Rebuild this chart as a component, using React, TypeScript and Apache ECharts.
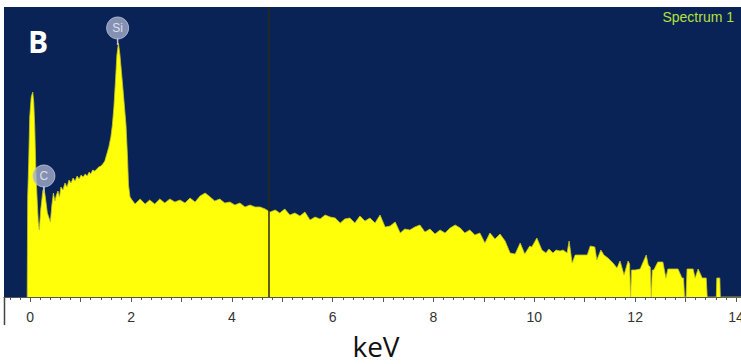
import React, { useEffect, useRef } from "react";
import * as echarts from "echarts";

// Energy (keV) and counts (arbitrary units, 0..290)
const energies = [
  -0.06, -0.05, -0.03, -0.01, 0.02, 0.05, 0.07, 0.09, 0.11, 0.13, 0.16, 0.18,
  0.21, 0.25, 0.27, 0.3, 0.34, 0.4, 0.43, 0.46, 0.49, 0.52, 0.55, 0.58, 0.61,
  0.65, 0.69, 0.73, 0.77, 0.81, 0.85, 0.89, 0.93, 0.97, 1.01, 1.05, 1.09, 1.13,
  1.17, 1.2, 1.24, 1.28, 1.32, 1.36, 1.4, 1.44, 1.48, 1.52, 1.56, 1.6, 1.63,
  1.66, 1.69, 1.72, 1.75, 1.78, 1.81, 1.84, 1.87, 1.9, 1.93, 1.95, 1.98, 2.02,
  2.08, 2.18, 2.28, 2.37, 2.47, 2.57, 2.67, 2.77, 2.87, 2.97,
  3.07, 3.17, 3.27, 3.37, 3.47, 3.57, 3.66, 3.76, 3.86, 3.96,
  4.06, 4.16, 4.26, 4.36, 4.46, 4.56, 4.66, 4.76, 4.86, 4.95,
  5.05, 5.15, 5.25, 5.35, 5.45, 5.55, 5.65, 5.75, 5.85, 5.95,
  6.05, 6.15, 6.24, 6.34, 6.44, 6.54, 6.64, 6.74, 6.84, 6.94,
  7.04, 7.14, 7.24, 7.34, 7.43, 7.53, 7.63, 7.73, 7.83, 7.93,
  8.03, 8.13, 8.23, 8.33, 8.43, 8.53, 8.62, 8.72, 8.82, 8.92,
  9.02, 9.12, 9.22, 9.32, 9.42, 9.52, 9.62, 9.72, 9.81, 9.91,
  9.95, 10.05, 10.15, 10.23, 10.29, 10.37, 10.43, 10.51, 10.57, 10.65, 10.69,
  10.75, 10.81, 10.91, 11.05, 11.11, 11.2, 11.24, 11.32, 11.38, 11.46, 11.56,
  11.64, 11.7, 11.78, 11.86, 11.89, 11.91, 11.93, 12.0, 12.1, 12.16, 12.22,
  12.26, 12.3, 12.32, 12.34, 12.37, 12.45, 12.55, 12.61, 12.65, 12.85, 12.93,
  12.96, 12.98, 13.01, 13.03, 13.05, 13.15, 13.19, 13.25, 13.33, 13.41, 13.43,
  13.61, 13.62, 13.68, 13.69, 14.1,
];
const counts = [
  0, 100, 135, 180, 200, 205, 195, 170, 130, 105, 75, 67,
  88, 106, 110, 100, 84, 75, 92, 104, 96, 102, 106, 100, 110,
  107, 114, 110, 117, 114, 119, 116, 121, 118, 122, 120, 123, 121,
  125, 123, 127, 126, 128, 130, 131, 133, 136, 143, 150, 160, 172,
  190, 215, 242, 254, 242, 225, 208, 190, 172, 140, 112, 100, 97,
  93, 98, 93, 97, 93, 98, 94, 98, 95, 97,
  94, 99, 95, 101, 104, 100, 96, 98, 94, 95,
  92, 94, 90, 92, 90, 90, 88, 85, 87, 84,
  88, 82, 84, 81, 85, 77, 80, 78, 82, 80,
  79, 74, 78, 79, 74, 81, 76, 79, 74, 82,
  70, 71, 75, 64, 68, 67, 70, 72, 65, 68,
  63, 67, 64, 69, 72, 69, 64, 67, 62, 64,
  54, 64, 58, 63, 56, 44, 43, 54, 43, 51,
  50, 59, 47, 44, 48, 44, 47, 46, 47, 44, 56,
  34, 42, 42, 42, 51, 50, 37, 47, 42, 39, 34,
  29, 36, 22, 36, 33, 0, 27, 27, 28, 35, 42,
  32, 30, 0, 27, 27, 35, 35, 19, 28, 28, 19,
  19, 0, 0, 28, 28, 28, 19, 28, 19, 19, 0,
  0, 19, 19, 0, 0,
];

const xLabelValues = [0, 2, 4, 6, 8, 10, 12, 14];
const majorTickValues = [0, 1, 2, 3, 4, 5, 6, 7, 8, 9, 10, 11, 12, 13, 14];
const elementNames = ["Si", "C"];
const elementEnergy = [1.734, 0.272];
const elementMarkerY = [269, 121];
const elementStemTop = [259, 111];
const elementStemBottom = [252, 104];
const cursorEnergy = 4.74;

export default function App() {
  const ref = useRef<HTMLDivElement>(null);
  useEffect(() => {
    document.body.style.margin = "0";
    const chart = echarts.init(ref.current!, null, { renderer: "svg" });
    const spectrum = energies.map((e, i) => [e, counts[i]]);
    const minorTicks = Array.from({ length: 73 }, (_, i) => Math.round((-0.4 + i * 0.2) * 10) / 10);
    const stemSeries = elementNames.map((n, i) => ({
      type: "line",
      name: n + " stem",
      data: [
        [elementEnergy[i], elementStemTop[i]],
        [elementEnergy[i], elementStemBottom[i]],
      ],
      symbol: "none",
      lineStyle: { color: "#b8c2da", width: 1.5 },
      z: 4,
    }));
    chart.setOption({
      animation: false,
      grid: {
        left: 4,
        right: 0,
        top: 7,
        bottom: 67,
        show: true,
        backgroundColor: "#0a2356",
        borderWidth: 0,
        containLabel: false,
        outerBoundsMode: "none",
      },
      xAxis: [
        {
          type: "value",
          min: -0.52,
          max: 14.1,
          position: "bottom",
          axisLine: { show: true, lineStyle: { color: "#555", width: 1 } },
          axisTick: { show: true, customValues: minorTicks, length: 3, lineStyle: { color: "#555" } },
          axisLabel: {
            customValues: xLabelValues,
            color: "#333333",
            fontSize: 14,
            fontFamily: "Liberation Sans",
            margin: 13,
            hideOverlap: false,
          },
          splitLine: { show: false },
        },
        {
          type: "value",
          min: -0.52,
          max: 14.1,
          position: "bottom",
          axisLine: { show: false },
          axisTick: { show: true, customValues: majorTickValues, length: 5, lineStyle: { color: "#555" } },
          axisLabel: { show: false },
          splitLine: { show: false },
        },
      ],
      yAxis: { type: "value", min: 0, max: 290, show: false },
      series: [
        {
          type: "line",
          name: "Spectrum 1",
          data: spectrum,
          symbol: "none",
          lineStyle: { color: "#c4c42a", width: 0.8 },
          areaStyle: { color: "#ffff0a", opacity: 1 },
          z: 2,
          markLine: {
            silent: true,
            symbol: ["none", "none"],
            label: { show: false },
            lineStyle: { color: "#2a2a14", width: 1.5, type: "solid" },
            data: [{ xAxis: cursorEnergy }],
          },
        },
        ...stemSeries,
        {
          type: "scatter",
          name: "elements",
          data: elementNames.map((n, i) => ({ name: n, value: [elementEnergy[i], elementMarkerY[i]] })),
          symbol: "circle",
          symbolSize: 22,
          itemStyle: { color: "#a2adca", borderColor: "#c0c8de", borderWidth: 1 },
          label: {
            show: true,
            position: "inside",
            formatter: "{b}",
            color: "#f2f4fa",
            fontSize: 12,
            fontFamily: "Liberation Sans",
          },
          z: 5,
        },
      ],
      graphic: [
        {
          type: "text",
          left: 28,
          top: 26,
          style: { text: "B", fill: "#ffffff", font: "bold 30px 'Open Sans'" },
          z: 10,
        },
        {
          type: "text",
          right: 7,
          top: 10,
          style: { text: "Spectrum 1", fill: "#b4e03a", font: "14px 'Liberation Sans'" },
          z: 10,
        },
        {
          type: "text",
          x: 376,
          y: 346,
          style: {
            text: "keV",
            fill: "#111",
            font: "28px 'Open Sans'",
            textAlign: "center",
            textVerticalAlign: "middle",
          },
        },
        {
          type: "line",
          shape: { x1: 4.5, y1: 297, x2: 4.5, y2: 325 },
          style: { stroke: "#444", lineWidth: 1.5 },
        },
      ],
    });
    return () => chart.dispose();
  }, []);
  return <div ref={ref} style={{ width: 741, height: 364 }} />;
}
